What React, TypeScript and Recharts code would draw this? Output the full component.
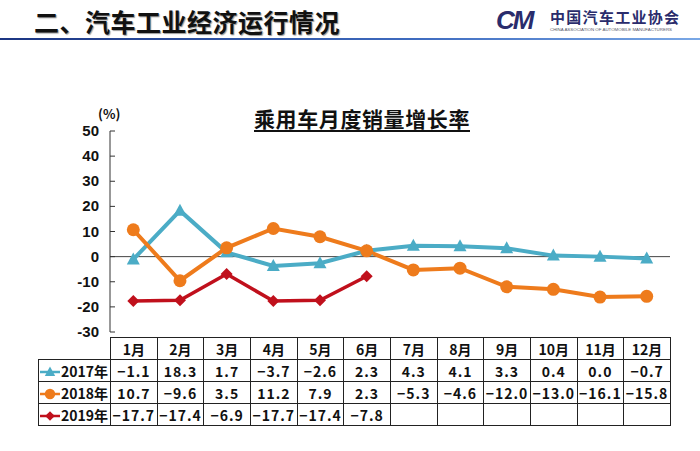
import React from "react";
import { LineChart, Line, XAxis, YAxis, ReferenceLine } from "recharts";

const months = ["1月", "2月", "3月", "4月", "5月", "6月", "7月", "8月", "9月", "10月", "11月", "12月"];
const growth2017 = [-1.1, 18.3, 1.7, -3.7, -2.6, 2.3, 4.3, 4.1, 3.3, 0.4, 0.0, -0.7];
const growth2018 = [10.7, -9.6, 3.5, 11.2, 7.9, 2.3, -5.3, -4.6, -12.0, -13.0, -16.1, -15.8];
const growth2019 = [-17.7, -17.4, -6.9, -17.7, -17.4, -7.8, null, null, null, null, null, null];
const yTicks = [-30, -20, -10, 0, 10, 20, 30, 40, 50];

const series = [
  { key: "y2017", label: "2017年", values: growth2017, color: "#4BACC6", shape: "triangle", width: 4 },
  { key: "y2018", label: "2018年", values: growth2018, color: "#EE7B1C", shape: "circle", width: 4 },
  { key: "y2019", label: "2019年", values: growth2019, color: "#C0101C", shape: "diamond", width: 3.5 },
];

const data = months.map((m, i) => {
  const row: Record<string, any> = { month: m };
  series.forEach((s) => (row[s.key] = s.values[i]));
  return row;
});

function marker(shape: string, color: string, cx: number, cy: number, s = 1) {
  if (shape === "triangle")
    return <polygon points={`${cx},${cy - 7 * s} ${cx - 6.5 * s},${cy + 5 * s} ${cx + 6.5 * s},${cy + 5 * s}`} fill={color} />;
  if (shape === "circle") return <circle cx={cx} cy={cy} r={6.5 * s} fill={color} />;
  return <polygon points={`${cx},${cy - 6 * s} ${cx + 6 * s},${cy} ${cx},${cy + 6 * s} ${cx - 6 * s},${cy}`} fill={color} />;
}

const makeDot = (shape: string, color: string) => (props: any) => {
  const { cx, cy, index } = props;
  if (cx == null || cy == null || props.value == null) return <g key={index} />;
  return <g key={index}>{marker(shape, color, cx, cy)}</g>;
};

const YTick = (props: any) => {
  const { x, y, payload } = props;
  return (
    <g>
      <line x1={x + 11} x2={x + 16} y1={y} y2={y} stroke="#333" strokeWidth={1} />
      <text x={x} y={y} dy={5} textAnchor="end" fill="#111" fontSize={15} fontWeight={700} fontFamily="'Liberation Sans', Arial, sans-serif">
        {payload.value}
      </text>
    </g>
  );
};

const fmt = (v: number | null) => (v == null ? "" : v.toFixed(1).replace("-", "−"));

const cellBorder = "1.5px solid #222";
const cellFont = "'Noto Sans CJK SC', 'Liberation Sans', sans-serif";

export default function App() {
  return (
    <div style={{ position: "absolute", left: 0, top: 0, width: 700, height: 451, background: "#fff", overflow: "hidden" }}>
      {/* page header */}
      <div style={{ position: "absolute", left: 34, top: 3, fontSize: 25, fontWeight: 700, fontFamily: cellFont, color: "#111", textShadow: "1px 1px 1px #999", letterSpacing: 0.5 }}>
        二、汽车工业经济运行情况
      </div>
      <svg style={{ position: "absolute", left: 490, top: 6 }} width={200} height={30}>
        <text x={6} y={23} fontSize={26} fontWeight={700} fontStyle="italic" fill="#2A2C6C" fontFamily="'Liberation Sans', sans-serif" letterSpacing={-2}>
          CM
        </text>
        <text x={60} y={17} fontSize={15} fontWeight={700} fill="#2A2C6C" fontFamily={cellFont} letterSpacing={1.3}>
          中国汽车工业协会
        </text>
        <text x={60} y={25} fontSize={4} fill="#556" fontFamily="'Liberation Sans', sans-serif" textLength={122} lengthAdjust="spacingAndGlyphs">
          CHINA ASSOCIATION OF AUTOMOBILE MANUFACTURERS
        </text>
      </svg>
      <div style={{ position: "absolute", left: 0, top: 38, width: 700, height: 2, background: "linear-gradient(to right, #1B3582, #3F6CC0 60%, #7AA8E6)" }} />

      {/* chart title */}
      <div style={{ position: "absolute", left: 254, top: 103, fontSize: 21, fontWeight: 700, fontFamily: cellFont, color: "#111", textDecoration: "underline", textUnderlineOffset: 3, letterSpacing: 0.6 }}>
        乘用车月度销量增长率
      </div>
      <div style={{ position: "absolute", left: 98, top: 104, fontSize: 13, fontWeight: 700, fontFamily: cellFont, color: "#111" }}>(%)</div>

      <div style={{ position: "absolute", left: 0, top: 0 }}>
        <LineChart width={700} height={340} data={data} margin={{ top: 131, right: 30, bottom: 8, left: 50 }}>
          <XAxis dataKey="month" hide padding={{ left: 23.3, right: 23.3 }} />
          <YAxis
            width={60}
            domain={[-30, 50]}
            ticks={yTicks}
            interval={0}
            tickLine={false}
            tickSize={0}
            tickMargin={11}
            axisLine={{ stroke: "#333", strokeWidth: 1 }}
            tick={<YTick />}
          />
          <ReferenceLine y={0} stroke="#444" strokeWidth={1} />
          {series.map((s) => (
            <Line
              key={s.key}
              dataKey={s.key}
              stroke={s.color}
              strokeWidth={s.width}
              dot={makeDot(s.shape, s.color)}
              activeDot={false}
              isAnimationActive={false}
            />
          ))}
        </LineChart>
      </div>

      {/* data table */}
      <table
        style={{ position: "absolute", left: 38, top: 337, borderCollapse: "collapse", tableLayout: "fixed", width: 632, fontFamily: cellFont, fontWeight: 700, fontSize: 14, color: "#111" }}
      >
        <colgroup>
          <col style={{ width: 72 }} />
          {months.map((m) => (
            <col key={m} style={{ width: 46.67 }} />
          ))}
        </colgroup>
        <tbody>
          <tr style={{ height: 22 }}>
            <td style={{ borderRight: cellBorder, borderBottom: cellBorder, padding: 0 }} />
            {months.map((m) => (
              <td key={m} style={{ border: cellBorder, textAlign: "center", padding: 0 }}>
                {m}
              </td>
            ))}
          </tr>
          {series.map((s) => (
            <tr key={s.key} style={{ height: 22 }}>
              <td style={{ border: cellBorder, padding: 0, whiteSpace: "nowrap" }}>
                <svg width={22} height={14} style={{ verticalAlign: "-2px" }}>
                  <line x1={1} x2={21} y1={7} y2={7} stroke={s.color} strokeWidth={2.5} />
                  {marker(s.shape, s.color, 11, 7, 0.8)}
                </svg>
                <span>{s.label}</span>
              </td>
              {s.values.map((v, i) => (
                <td key={i} style={{ border: cellBorder, textAlign: "center", padding: 0, letterSpacing: 1 }}>
                  {fmt(v)}
                </td>
              ))}
            </tr>
          ))}
        </tbody>
      </table>
    </div>
  );
}
